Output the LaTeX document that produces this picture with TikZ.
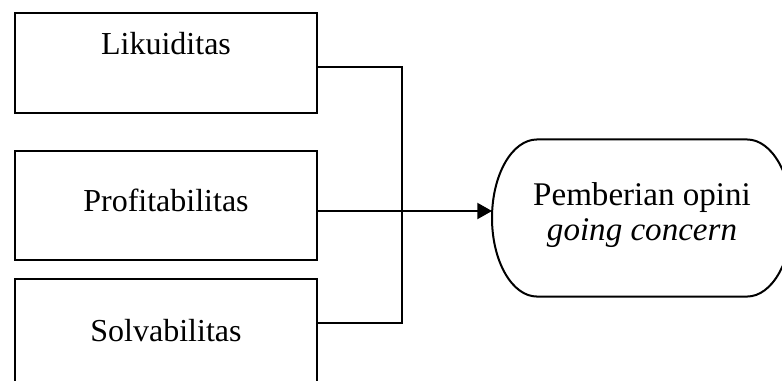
\documentclass[tikz,border=0pt]{standalone}
\usepackage{fontspec}
\setmainfont{Liberation Serif}
\usetikzlibrary{arrows.meta, positioning}

\begin{document}
\begin{tikzpicture}[x=0.375pt, y=-0.375pt, line width=0.75pt,
		every node/.style={font=\fontsize{12}{13.2}\selectfont},
		varbox/.style={draw, anchor=north west, inner sep=0pt, minimum width=113.25pt},
		endbox/.style={inner sep=0pt, outer sep=0pt, minimum width=112.5pt, minimum height=58.9pt, align=center},
		arrowline/.style={-{Triangle[length=5.5pt, width=6pt]}}]
				\useasboundingbox (0,0) rectangle (782,380);

				\node[varbox, text height=15.4pt, text depth=22.1pt] (lik) at (14,12) {Likuiditas};
				\node[varbox, text height=22.5pt, text depth=18.4pt] (prof) at (14,150) {Profitabilitas};
				\node[varbox, text height=23.25pt, text depth=17.6pt] (sol) at (14,278) {Solvabilitas};

				\node[endbox] (opini) at (642,218) {\fontsize{12.4}{13.2}\selectfont Pemberian opini\\\fontsize{12.4}{13.2}\selectfont\textit{going concern}\rule[-4.7pt]{0pt}{4.7pt}};
				\draw ([xshift=16.875pt]opini.north west) -- ([xshift=-16.875pt]opini.north east)
				arc[start angle=90, end angle=-90, x radius=16.875pt, y radius=29.45pt]
				-- ([xshift=16.875pt]opini.south west)
				arc[start angle=270, end angle=90, x radius=16.875pt, y radius=29.45pt] -- cycle;

				\coordinate (jtop) at (402,67);
				\coordinate (jbot) at (402,323);

				\draw (lik.east |- jtop) -- (jtop) -- (jbot) -- (sol.east |- jbot);
				\draw[arrowline] (prof.east |- 0,211) -- (opini.west |- 0,211);
\end{tikzpicture}
\end{document}
